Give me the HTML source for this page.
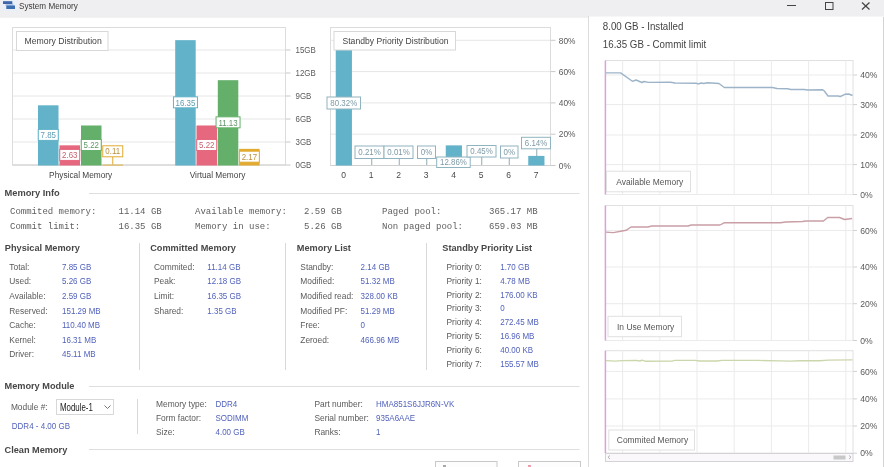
<!DOCTYPE html>
<html><head><meta charset="utf-8"><title>System Memory</title>
<style>
html,body{margin:0;padding:0;width:884px;height:467px;overflow:hidden;background:#fff;}
body{position:relative;font-family:"Liberation Sans",sans-serif;}
.g{position:absolute;left:0;top:0;filter:blur(0.4px);}
.t{position:absolute;white-space:nowrap;}
</style></head><body>
<svg class="g" width="884" height="467" viewBox="0 0 884 467" font-family="Liberation Sans, sans-serif"><rect x="0" y="0" width="884" height="16.5" fill="#efeff1" /><rect x="0" y="16.5" width="589" height="1" fill="#e8e6e8" /><rect x="2" y="0.5" width="15" height="10.5" fill="#e9eff7" /><rect x="5.5" y="3.5" width="8" height="2.5" fill="#b4c8e6" /><rect x="3" y="1.2" width="9.3" height="2.8" fill="#3d66ab" /><rect x="6.3" y="5.5" width="8.7" height="3.5" fill="#3b6fb2" /><text transform="translate(19,9) scale(0.905,1)" font-size="9" fill="#3a3a3a" text-anchor="start">System Memory</text><line x1="787" y1="5.5" x2="796" y2="5.5" stroke="#444" stroke-width="1" /><rect x="825.5" y="2.5" width="7.5" height="7" fill="none" stroke="#444" stroke-width="1" /><line x1="862" y1="2.5" x2="869.5" y2="9.5" stroke="#444" stroke-width="1.2" /><line x1="869.5" y1="2.5" x2="862" y2="9.5" stroke="#444" stroke-width="1.2" /><rect x="12.5" y="27.5" width="273.0" height="137.5" fill="#fff" stroke="#dcdcdc" stroke-width="1" /><line x1="285.5" y1="165" x2="290.5" y2="165" stroke="#c8c8c8" stroke-width="1" /><text transform="translate(295.5,168) scale(0.88,1)" font-size="9" fill="#5a5a5a" text-anchor="start">0GB</text><line x1="12.5" y1="142" x2="285.5" y2="142" stroke="#e6e6e6" stroke-width="1" /><line x1="285.5" y1="142" x2="290.5" y2="142" stroke="#c8c8c8" stroke-width="1" /><text transform="translate(295.5,145) scale(0.88,1)" font-size="9" fill="#5a5a5a" text-anchor="start">3GB</text><line x1="12.5" y1="119" x2="285.5" y2="119" stroke="#e6e6e6" stroke-width="1" /><line x1="285.5" y1="119" x2="290.5" y2="119" stroke="#c8c8c8" stroke-width="1" /><text transform="translate(295.5,122) scale(0.88,1)" font-size="9" fill="#5a5a5a" text-anchor="start">6GB</text><line x1="12.5" y1="96" x2="285.5" y2="96" stroke="#e6e6e6" stroke-width="1" /><line x1="285.5" y1="96" x2="290.5" y2="96" stroke="#c8c8c8" stroke-width="1" /><text transform="translate(295.5,99) scale(0.88,1)" font-size="9" fill="#5a5a5a" text-anchor="start">9GB</text><line x1="12.5" y1="73" x2="285.5" y2="73" stroke="#e6e6e6" stroke-width="1" /><line x1="285.5" y1="73" x2="290.5" y2="73" stroke="#c8c8c8" stroke-width="1" /><text transform="translate(295.5,76) scale(0.88,1)" font-size="9" fill="#5a5a5a" text-anchor="start">12GB</text><line x1="12.5" y1="50" x2="285.5" y2="50" stroke="#e6e6e6" stroke-width="1" /><line x1="285.5" y1="50" x2="290.5" y2="50" stroke="#c8c8c8" stroke-width="1" /><text transform="translate(295.5,53) scale(0.88,1)" font-size="9" fill="#5a5a5a" text-anchor="start">15GB</text><line x1="12.5" y1="165" x2="285.5" y2="165" stroke="#d0d0d0" stroke-width="1" /><rect x="16.5" y="31.5" width="91.5" height="19" fill="#fff" stroke="#d8d8d8" stroke-width="1" /><text transform="translate(24.5,44) scale(0.925,1)" font-size="9.4" fill="#444" text-anchor="start">Memory Distribution</text><rect x="38" y="105.31666666666666" width="20.5" height="60.18333333333333" fill="#62b2c9" /><rect x="59.5" y="145.33666666666667" width="20.5" height="20.163333333333334" fill="#e6687e" /><rect x="81" y="125.47999999999999" width="20.5" height="40.02" fill="#64b06a" /><rect x="102.5" y="164.65666666666667" width="20.5" height="0.8433333333333334" fill="#e2aa30" /><rect x="175.2" y="40.14999999999998" width="20.5" height="125.35000000000002" fill="#62b2c9" /><rect x="196.5" y="125.47999999999999" width="20.5" height="40.02" fill="#e6687e" /><rect x="217.8" y="80.16999999999999" width="20.5" height="85.33000000000001" fill="#64b06a" /><rect x="239.1" y="148.86333333333334" width="20.5" height="16.636666666666667" fill="#e2aa30" /><rect x="38.25" y="129.40833333333333" width="20" height="11" fill="#fff" stroke="#62b2c9" stroke-width="1" /><text transform="translate(48.25,138) scale(0.9,1)" font-size="8.8" fill="#5f9db3" text-anchor="middle">7.85</text><rect x="59.75" y="149.41833333333332" width="20" height="11" fill="#fff" stroke="#e6687e" stroke-width="1" /><text transform="translate(69.75,158) scale(0.9,1)" font-size="8.8" fill="#c8606f" text-anchor="middle">2.63</text><rect x="81.25" y="139.49" width="20" height="11" fill="#fff" stroke="#64b06a" stroke-width="1" /><text transform="translate(91.25,148) scale(0.9,1)" font-size="8.8" fill="#5e9766" text-anchor="middle">5.22</text><line x1="112.75" y1="157" x2="112.75" y2="164.5" stroke="#e2aa30" stroke-width="1" /><rect x="102.75" y="145.8" width="20" height="11" fill="#fff" stroke="#e2aa30" stroke-width="1" /><text transform="translate(112.75,154) scale(0.9,1)" font-size="8.8" fill="#bb9040" text-anchor="middle">0.11</text><rect x="173.45" y="96.82499999999999" width="24" height="11" fill="#fff" stroke="#62b2c9" stroke-width="1" /><text transform="translate(185.45,106) scale(0.9,1)" font-size="8.8" fill="#5f9db3" text-anchor="middle">16.35</text><rect x="196.75" y="139.49" width="20" height="11" fill="#fff" stroke="#e6687e" stroke-width="1" /><text transform="translate(206.75,148) scale(0.9,1)" font-size="8.8" fill="#c8606f" text-anchor="middle">5.22</text><rect x="216.05" y="116.835" width="24" height="11" fill="#fff" stroke="#64b06a" stroke-width="1" /><text transform="translate(228.05,126) scale(0.9,1)" font-size="8.8" fill="#5e9766" text-anchor="middle">11.13</text><rect x="239.35" y="151.18166666666667" width="20" height="11" fill="#fff" stroke="#e2aa30" stroke-width="1" /><text transform="translate(249.35,160) scale(0.9,1)" font-size="8.8" fill="#bb9040" text-anchor="middle">2.17</text><text x="80.7" y="177.5" font-size="8.3" fill="#444" text-anchor="middle">Physical Memory</text><text x="217.5" y="177.5" font-size="8.3" fill="#444" text-anchor="middle">Virtual Memory</text><rect x="330.5" y="27.5" width="220.0" height="138.0" fill="#fff" stroke="#dcdcdc" stroke-width="1" /><line x1="550.5" y1="165.5" x2="555.5" y2="165.5" stroke="#c8c8c8" stroke-width="1" /><text transform="translate(558.8,169) scale(0.93,1)" font-size="9" fill="#5a5a5a" text-anchor="start">0%</text><line x1="330.5" y1="134.2" x2="550.5" y2="134.2" stroke="#e6e6e6" stroke-width="1" /><line x1="550.5" y1="134.2" x2="555.5" y2="134.2" stroke="#c8c8c8" stroke-width="1" /><text transform="translate(558.8,137) scale(0.93,1)" font-size="9" fill="#5a5a5a" text-anchor="start">20%</text><line x1="330.5" y1="102.9" x2="550.5" y2="102.9" stroke="#e6e6e6" stroke-width="1" /><line x1="550.5" y1="102.9" x2="555.5" y2="102.9" stroke="#c8c8c8" stroke-width="1" /><text transform="translate(558.8,106) scale(0.93,1)" font-size="9" fill="#5a5a5a" text-anchor="start">40%</text><line x1="330.5" y1="71.60000000000001" x2="550.5" y2="71.60000000000001" stroke="#e6e6e6" stroke-width="1" /><line x1="550.5" y1="71.60000000000001" x2="555.5" y2="71.60000000000001" stroke="#c8c8c8" stroke-width="1" /><text transform="translate(558.8,75) scale(0.93,1)" font-size="9" fill="#5a5a5a" text-anchor="start">60%</text><line x1="330.5" y1="40.30000000000001" x2="550.5" y2="40.30000000000001" stroke="#e6e6e6" stroke-width="1" /><line x1="550.5" y1="40.30000000000001" x2="555.5" y2="40.30000000000001" stroke="#c8c8c8" stroke-width="1" /><text transform="translate(558.8,44) scale(0.93,1)" font-size="9" fill="#5a5a5a" text-anchor="start">80%</text><line x1="330.5" y1="165.5" x2="550.5" y2="165.5" stroke="#d0d0d0" stroke-width="1" /><rect x="335.75" y="39.79920000000001" width="16.2" height="125.70079999999999" fill="#62b2c9" /><text transform="translate(343.55,178) scale(0.95,1)" font-size="9" fill="#4a4a4a" text-anchor="middle">0</text><text transform="translate(371.05,178) scale(0.95,1)" font-size="9" fill="#4a4a4a" text-anchor="middle">1</text><text transform="translate(398.55,178) scale(0.95,1)" font-size="9" fill="#4a4a4a" text-anchor="middle">2</text><text transform="translate(426.05,178) scale(0.95,1)" font-size="9" fill="#4a4a4a" text-anchor="middle">3</text><rect x="445.75" y="145.3741" width="16.2" height="20.125899999999998" fill="#62b2c9" /><text transform="translate(453.55,178) scale(0.95,1)" font-size="9" fill="#4a4a4a" text-anchor="middle">4</text><text transform="translate(481.05,178) scale(0.95,1)" font-size="9" fill="#4a4a4a" text-anchor="middle">5</text><text transform="translate(508.55,178) scale(0.95,1)" font-size="9" fill="#4a4a4a" text-anchor="middle">6</text><rect x="528.25" y="155.8909" width="16.2" height="9.6091" fill="#62b2c9" /><text transform="translate(536.05,178) scale(0.95,1)" font-size="9" fill="#4a4a4a" text-anchor="middle">7</text><rect x="334" y="31.5" width="121.5" height="18.5" fill="#fff" stroke="#d8d8d8" stroke-width="1" /><text transform="translate(342.5,44) scale(0.915,1)" font-size="9.4" fill="#444" text-anchor="start">Standby Priority Distribution</text><rect x="327" y="97" width="33.5" height="12" fill="#fff" stroke="#8fb4c0" stroke-width="1" /><text transform="translate(343.75,106) scale(0.9,1)" font-size="8.8" fill="#7d9aa6" text-anchor="middle">80.32%</text><line x1="371.75" y1="158.5" x2="371.75" y2="165" stroke="#90aab4" stroke-width="1" /><rect x="355" y="146" width="29" height="12.5" fill="#fff" stroke="#8fb4c0" stroke-width="1" /><text transform="translate(369.5,155) scale(0.9,1)" font-size="8.8" fill="#7d9aa6" text-anchor="middle">0.21%</text><line x1="399.25" y1="158.5" x2="399.25" y2="165" stroke="#90aab4" stroke-width="1" /><rect x="384" y="146" width="29" height="12.5" fill="#fff" stroke="#8fb4c0" stroke-width="1" /><text transform="translate(398.5,155) scale(0.9,1)" font-size="8.8" fill="#7d9aa6" text-anchor="middle">0.01%</text><line x1="426.75" y1="158.5" x2="426.75" y2="165" stroke="#90aab4" stroke-width="1" /><rect x="417.5" y="146" width="18.0" height="12.5" fill="#fff" stroke="#8fb4c0" stroke-width="1" /><text transform="translate(426.5,155) scale(0.9,1)" font-size="8.8" fill="#7d9aa6" text-anchor="middle">0%</text><rect x="436.7" y="157" width="33.5" height="10.5" fill="#fff" stroke="#8fb4c0" stroke-width="1" /><text transform="translate(453.45,165) scale(0.9,1)" font-size="8.8" fill="#7d9aa6" text-anchor="middle">12.86%</text><line x1="481.75" y1="157" x2="481.75" y2="165" stroke="#90aab4" stroke-width="1" /><rect x="467" y="145.5" width="29" height="11.5" fill="#fff" stroke="#8fb4c0" stroke-width="1" /><text transform="translate(481.5,154) scale(0.9,1)" font-size="8.8" fill="#7d9aa6" text-anchor="middle">0.45%</text><line x1="509.25" y1="158" x2="509.25" y2="165" stroke="#90aab4" stroke-width="1" /><rect x="500.5" y="146" width="17.5" height="12" fill="#fff" stroke="#8fb4c0" stroke-width="1" /><text transform="translate(509.25,155) scale(0.9,1)" font-size="8.8" fill="#7d9aa6" text-anchor="middle">0%</text><line x1="536.75" y1="148.8" x2="536.75" y2="156" stroke="#90aab4" stroke-width="1" /><rect x="521.5" y="137.3" width="29.0" height="11.5" fill="#fff" stroke="#8fb4c0" stroke-width="1" /><text transform="translate(536.0,146) scale(0.9,1)" font-size="8.8" fill="#7d9aa6" text-anchor="middle">6.14%</text><line x1="89" y1="193.5" x2="579.5" y2="193.5" stroke="#dedede" stroke-width="1" /><line x1="139.5" y1="243" x2="139.5" y2="370" stroke="#d8d8d8" stroke-width="1" /><line x1="285.5" y1="243" x2="285.5" y2="370" stroke="#d8d8d8" stroke-width="1" /><line x1="426.5" y1="243" x2="426.5" y2="370" stroke="#d8d8d8" stroke-width="1" /><line x1="89" y1="386.5" x2="579.5" y2="386.5" stroke="#dedede" stroke-width="1" /><rect x="56.5" y="399.5" width="57" height="15" fill="#fff" stroke="#d8d8d8" stroke-width="1" /><text transform="translate(60,411) scale(0.76,1)" font-size="10.4" fill="#1a1a1a" text-anchor="start">Module-1</text><polyline points="104.5,405.5 107.5,408.5 110.5,405.5" fill="none" stroke="#666" stroke-width="0.9"/><line x1="137.5" y1="399" x2="137.5" y2="434" stroke="#d8d8d8" stroke-width="1" /><line x1="89" y1="449.5" x2="579.5" y2="449.5" stroke="#dedede" stroke-width="1" /><rect x="435.5" y="461.5" width="61.5" height="10" fill="#fdfdfd" stroke="#c8c8c8" stroke-width="1" /><rect x="518.5" y="461.5" width="62" height="10" fill="#fdfdfd" stroke="#c8c8c8" stroke-width="1" /><rect x="443" y="465" width="3" height="2.5" fill="#a8a8a8" /><rect x="528" y="465" width="3" height="2.5" fill="#eaa0ac" /><line x1="883.5" y1="17" x2="883.5" y2="467" stroke="#d4d4d4" stroke-width="1" /><line x1="588.5" y1="16" x2="588.5" y2="467" stroke="#dcdcdc" stroke-width="1" /><text transform="translate(602.8,30) scale(0.955,1)" font-size="10.2" fill="#444" text-anchor="start">8.00 GB - Installed</text><text transform="translate(602.8,48) scale(0.955,1)" font-size="10.2" fill="#444" text-anchor="start">16.35 GB - Commit limit</text><rect x="605.5" y="60.5" width="247.5" height="134.0" fill="#fff" stroke="#e0e0e0" stroke-width="1" /><line x1="622.6" y1="60.5" x2="622.6" y2="194.5" stroke="#ebebeb" stroke-width="1" /><line x1="659.8000000000001" y1="60.5" x2="659.8000000000001" y2="194.5" stroke="#ebebeb" stroke-width="1" /><line x1="697.0" y1="60.5" x2="697.0" y2="194.5" stroke="#ebebeb" stroke-width="1" /><line x1="734.2" y1="60.5" x2="734.2" y2="194.5" stroke="#ebebeb" stroke-width="1" /><line x1="771.4000000000001" y1="60.5" x2="771.4000000000001" y2="194.5" stroke="#ebebeb" stroke-width="1" /><line x1="808.6" y1="60.5" x2="808.6" y2="194.5" stroke="#ebebeb" stroke-width="1" /><line x1="845.8000000000001" y1="60.5" x2="845.8000000000001" y2="194.5" stroke="#ebebeb" stroke-width="1" /><line x1="605.5" y1="75" x2="853" y2="75" stroke="#ebebeb" stroke-width="1" /><line x1="853" y1="75" x2="857" y2="75" stroke="#d0d0d0" stroke-width="1" /><text x="860.3" y="78.2" font-size="8.6" fill="#5a5a5a" text-anchor="start">40%</text><line x1="605.5" y1="104.6" x2="853" y2="104.6" stroke="#ebebeb" stroke-width="1" /><line x1="853" y1="104.6" x2="857" y2="104.6" stroke="#d0d0d0" stroke-width="1" /><text x="860.3" y="107.8" font-size="8.6" fill="#5a5a5a" text-anchor="start">30%</text><line x1="605.5" y1="135" x2="853" y2="135" stroke="#ebebeb" stroke-width="1" /><line x1="853" y1="135" x2="857" y2="135" stroke="#d0d0d0" stroke-width="1" /><text x="860.3" y="138.2" font-size="8.6" fill="#5a5a5a" text-anchor="start">20%</text><line x1="605.5" y1="164.6" x2="853" y2="164.6" stroke="#ebebeb" stroke-width="1" /><line x1="853" y1="164.6" x2="857" y2="164.6" stroke="#d0d0d0" stroke-width="1" /><text x="860.3" y="167.79999999999998" font-size="8.6" fill="#5a5a5a" text-anchor="start">10%</text><line x1="605.5" y1="194.5" x2="853" y2="194.5" stroke="#ebebeb" stroke-width="1" /><line x1="853" y1="194.5" x2="857" y2="194.5" stroke="#d0d0d0" stroke-width="1" /><text x="860.3" y="197.7" font-size="8.6" fill="#5a5a5a" text-anchor="start">0%</text><line x1="605.4" y1="60.5" x2="605.4" y2="194.5" stroke="#d8a4d8" stroke-width="1.5" /><rect x="606.5" y="171.2" width="84" height="20.6" fill="#fff" stroke="#e0e0e0" stroke-width="1" /><text transform="translate(616.3,185) scale(0.93,1)" font-size="9.1" fill="#555" text-anchor="start">Available Memory</text><polyline points="606,72.9 620.6,72.9 632.4,81.3 636,80 641.9,82.5 644,81.5 648.5,82.4 670.6,82.2 675,83 696.3,83.2 697.8,84 701.5,83 703.7,83.5 707.4,82.8 719,83.5 724.3,87.5 772.3,87.5 777,88.5 787.6,88.8 790.7,89.5 804.4,89.5 807.5,90 822.7,89.8 824.3,91 828,96 838,96 840.3,96.5 844.9,94.3 848.7,94 852.5,95.5" fill="none" stroke="#9db4c8" stroke-width="1.4" stroke-linejoin="round"/><rect x="605.5" y="205.5" width="247.5" height="135.0" fill="#fff" stroke="#e0e0e0" stroke-width="1" /><line x1="622.6" y1="205.5" x2="622.6" y2="340.5" stroke="#ebebeb" stroke-width="1" /><line x1="659.8000000000001" y1="205.5" x2="659.8000000000001" y2="340.5" stroke="#ebebeb" stroke-width="1" /><line x1="697.0" y1="205.5" x2="697.0" y2="340.5" stroke="#ebebeb" stroke-width="1" /><line x1="734.2" y1="205.5" x2="734.2" y2="340.5" stroke="#ebebeb" stroke-width="1" /><line x1="771.4000000000001" y1="205.5" x2="771.4000000000001" y2="340.5" stroke="#ebebeb" stroke-width="1" /><line x1="808.6" y1="205.5" x2="808.6" y2="340.5" stroke="#ebebeb" stroke-width="1" /><line x1="845.8000000000001" y1="205.5" x2="845.8000000000001" y2="340.5" stroke="#ebebeb" stroke-width="1" /><line x1="605.5" y1="230.5" x2="853" y2="230.5" stroke="#ebebeb" stroke-width="1" /><line x1="853" y1="230.5" x2="857" y2="230.5" stroke="#d0d0d0" stroke-width="1" /><text x="860.3" y="233.7" font-size="8.6" fill="#5a5a5a" text-anchor="start">60%</text><line x1="605.5" y1="267" x2="853" y2="267" stroke="#ebebeb" stroke-width="1" /><line x1="853" y1="267" x2="857" y2="267" stroke="#d0d0d0" stroke-width="1" /><text x="860.3" y="270.2" font-size="8.6" fill="#5a5a5a" text-anchor="start">40%</text><line x1="605.5" y1="303.7" x2="853" y2="303.7" stroke="#ebebeb" stroke-width="1" /><line x1="853" y1="303.7" x2="857" y2="303.7" stroke="#d0d0d0" stroke-width="1" /><text x="860.3" y="306.9" font-size="8.6" fill="#5a5a5a" text-anchor="start">20%</text><line x1="605.5" y1="340.5" x2="853" y2="340.5" stroke="#ebebeb" stroke-width="1" /><line x1="853" y1="340.5" x2="857" y2="340.5" stroke="#d0d0d0" stroke-width="1" /><text x="860.3" y="343.7" font-size="8.6" fill="#5a5a5a" text-anchor="start">0%</text><line x1="605.4" y1="205.5" x2="605.4" y2="340.5" stroke="#d8a4d8" stroke-width="1.5" /><rect x="608" y="316.3" width="73.5" height="20.4" fill="#fff" stroke="#e0e0e0" stroke-width="1" /><text transform="translate(617,330) scale(0.93,1)" font-size="9.1" fill="#555" text-anchor="start">In Use Memory</text><polyline points="606,232.1 613.3,232.6 622.1,231 626.1,230.3 631,227 647.8,227 651.8,226 688,226 691.2,225 720,225 724.1,222.8 780.5,222.8 785.6,222 802.4,221.5 805.8,221 823.5,221 827.7,217.5 839.5,217.5 844.6,219.5 852.1,218.5" fill="none" stroke="#c99ea6" stroke-width="1.4" stroke-linejoin="round"/><rect x="605.5" y="350.7" width="247.5" height="102.5" fill="#fff" stroke="#e0e0e0" stroke-width="1" /><line x1="622.6" y1="350.7" x2="622.6" y2="453.2" stroke="#ebebeb" stroke-width="1" /><line x1="659.8000000000001" y1="350.7" x2="659.8000000000001" y2="453.2" stroke="#ebebeb" stroke-width="1" /><line x1="697.0" y1="350.7" x2="697.0" y2="453.2" stroke="#ebebeb" stroke-width="1" /><line x1="734.2" y1="350.7" x2="734.2" y2="453.2" stroke="#ebebeb" stroke-width="1" /><line x1="771.4000000000001" y1="350.7" x2="771.4000000000001" y2="453.2" stroke="#ebebeb" stroke-width="1" /><line x1="808.6" y1="350.7" x2="808.6" y2="453.2" stroke="#ebebeb" stroke-width="1" /><line x1="845.8000000000001" y1="350.7" x2="845.8000000000001" y2="453.2" stroke="#ebebeb" stroke-width="1" /><line x1="605.5" y1="371.4" x2="853" y2="371.4" stroke="#ebebeb" stroke-width="1" /><line x1="853" y1="371.4" x2="857" y2="371.4" stroke="#d0d0d0" stroke-width="1" /><text x="860.3" y="374.59999999999997" font-size="8.6" fill="#5a5a5a" text-anchor="start">60%</text><line x1="605.5" y1="398.9" x2="853" y2="398.9" stroke="#ebebeb" stroke-width="1" /><line x1="853" y1="398.9" x2="857" y2="398.9" stroke="#d0d0d0" stroke-width="1" /><text x="860.3" y="402.09999999999997" font-size="8.6" fill="#5a5a5a" text-anchor="start">40%</text><line x1="605.5" y1="426" x2="853" y2="426" stroke="#ebebeb" stroke-width="1" /><line x1="853" y1="426" x2="857" y2="426" stroke="#d0d0d0" stroke-width="1" /><text x="860.3" y="429.2" font-size="8.6" fill="#5a5a5a" text-anchor="start">20%</text><line x1="605.5" y1="453.2" x2="853" y2="453.2" stroke="#ebebeb" stroke-width="1" /><line x1="853" y1="453.2" x2="857" y2="453.2" stroke="#d0d0d0" stroke-width="1" /><text x="860.3" y="456.4" font-size="8.6" fill="#5a5a5a" text-anchor="start">0%</text><line x1="605.4" y1="350.7" x2="605.4" y2="453.2" stroke="#d8a4d8" stroke-width="1.5" /><rect x="608.8" y="430" width="85.7" height="20" fill="#fff" stroke="#e0e0e0" stroke-width="1" /><text transform="translate(616.8,443) scale(0.93,1)" font-size="9.1" fill="#555" text-anchor="start">Commited Memory</text><polyline points="606,360.6 615,361.1 622,360.6 636,360.4 640,361 642,360.2 645,361.2 672,361.1 675,360.4 695,360.4 700,361 717,361 722,360.4 757,360.4 780,360.9 790,361.1 800,360.7 820,360.7 828,360.1 852.5,359.9" fill="none" stroke="#ccd6ac" stroke-width="1.4" stroke-linejoin="round"/><rect x="605.5" y="453.5" width="247.5" height="8" fill="#faf8fa" stroke="#d4d2d6" stroke-width="1" /><rect x="833.5" y="455.5" width="12" height="4" fill="#c8c8c8" /><polyline points="610,455.5 608,457.2 610,459" fill="none" stroke="#999" stroke-width="0.7"/><polyline points="849,455.5 851,457.2 849,459" fill="none" stroke="#999" stroke-width="0.7"/><text x="4.5" y="196" font-size="9.3" fill="#474747" text-anchor="start" font-weight="bold">Memory Info</text><text x="10" y="213.5" font-size="9" fill="#5e5e5e" text-anchor="start" font-family="Liberation Mono, monospace">Commited memory:</text><text x="118.5" y="213.5" font-size="9" fill="#5e5e5e" text-anchor="start" font-family="Liberation Mono, monospace">11.14 GB</text><text x="195" y="213.5" font-size="9" fill="#5e5e5e" text-anchor="start" font-family="Liberation Mono, monospace">Available memory:</text><text x="304" y="213.5" font-size="9" fill="#5e5e5e" text-anchor="start" font-family="Liberation Mono, monospace">2.59 GB</text><text x="382" y="213.5" font-size="9" fill="#5e5e5e" text-anchor="start" font-family="Liberation Mono, monospace">Paged pool:</text><text x="489" y="213.5" font-size="9" fill="#5e5e5e" text-anchor="start" font-family="Liberation Mono, monospace">365.17 MB</text><text x="10" y="228.8" font-size="9" fill="#5e5e5e" text-anchor="start" font-family="Liberation Mono, monospace">Commit limit:</text><text x="118.5" y="228.8" font-size="9" fill="#5e5e5e" text-anchor="start" font-family="Liberation Mono, monospace">16.35 GB</text><text x="195" y="228.8" font-size="9" fill="#5e5e5e" text-anchor="start" font-family="Liberation Mono, monospace">Memory in use:</text><text x="304" y="228.8" font-size="9" fill="#5e5e5e" text-anchor="start" font-family="Liberation Mono, monospace">5.26 GB</text><text x="382" y="228.8" font-size="9" fill="#5e5e5e" text-anchor="start" font-family="Liberation Mono, monospace">Non paged pool:</text><text x="489" y="228.8" font-size="9" fill="#5e5e5e" text-anchor="start" font-family="Liberation Mono, monospace">659.03 MB</text><text x="4.8" y="251.2" font-size="9.2" fill="#474747" text-anchor="start" font-weight="bold">Physical Memory</text><text x="9.3" y="269.9" font-size="8.4" fill="#5a5a5a" text-anchor="start">Total:</text><text transform="translate(62,270) scale(0.9,1)" font-size="8.9" fill="#5262bc">7.85 GB</text><text x="9.3" y="284.45" font-size="8.4" fill="#5a5a5a" text-anchor="start">Used:</text><text transform="translate(62,284) scale(0.9,1)" font-size="8.9" fill="#5262bc">5.26 GB</text><text x="9.3" y="299.0" font-size="8.4" fill="#5a5a5a" text-anchor="start">Available:</text><text transform="translate(62,299) scale(0.9,1)" font-size="8.9" fill="#5262bc">2.59 GB</text><text x="9.3" y="313.54999999999995" font-size="8.4" fill="#5a5a5a" text-anchor="start">Reserved:</text><text transform="translate(62,314) scale(0.9,1)" font-size="8.9" fill="#5262bc">151.29 MB</text><text x="9.3" y="328.09999999999997" font-size="8.4" fill="#5a5a5a" text-anchor="start">Cache:</text><text transform="translate(62,328) scale(0.9,1)" font-size="8.9" fill="#5262bc">110.40 MB</text><text x="9.3" y="342.65" font-size="8.4" fill="#5a5a5a" text-anchor="start">Kernel:</text><text transform="translate(62,343) scale(0.9,1)" font-size="8.9" fill="#5262bc">16.31 MB</text><text x="9.3" y="357.2" font-size="8.4" fill="#5a5a5a" text-anchor="start">Driver:</text><text transform="translate(62,357) scale(0.9,1)" font-size="8.9" fill="#5262bc">45.11 MB</text><text x="150.2" y="251.2" font-size="9.2" fill="#474747" text-anchor="start" font-weight="bold">Committed Memory</text><text x="154" y="269.9" font-size="8.4" fill="#5a5a5a" text-anchor="start">Commited:</text><text transform="translate(207.3,270) scale(0.9,1)" font-size="8.9" fill="#5262bc">11.14 GB</text><text x="154" y="284.45" font-size="8.4" fill="#5a5a5a" text-anchor="start">Peak:</text><text transform="translate(207.3,284) scale(0.9,1)" font-size="8.9" fill="#5262bc">12.18 GB</text><text x="154" y="299.0" font-size="8.4" fill="#5a5a5a" text-anchor="start">Limit:</text><text transform="translate(207.3,299) scale(0.9,1)" font-size="8.9" fill="#5262bc">16.35 GB</text><text x="154" y="313.54999999999995" font-size="8.4" fill="#5a5a5a" text-anchor="start">Shared:</text><text transform="translate(207.3,314) scale(0.9,1)" font-size="8.9" fill="#5262bc">1.35 GB</text><text x="296.8" y="251.2" font-size="9.2" fill="#474747" text-anchor="start" font-weight="bold">Memory List</text><text x="300.3" y="269.9" font-size="8.4" fill="#5a5a5a" text-anchor="start">Standby:</text><text transform="translate(360.6,270) scale(0.9,1)" font-size="8.9" fill="#5262bc">2.14 GB</text><text x="300.3" y="284.45" font-size="8.4" fill="#5a5a5a" text-anchor="start">Modified:</text><text transform="translate(360.6,284) scale(0.9,1)" font-size="8.9" fill="#5262bc">51.32 MB</text><text x="300.3" y="299.0" font-size="8.4" fill="#5a5a5a" text-anchor="start">Modified read:</text><text transform="translate(360.6,299) scale(0.9,1)" font-size="8.9" fill="#5262bc">328.00 KB</text><text x="300.3" y="313.54999999999995" font-size="8.4" fill="#5a5a5a" text-anchor="start">Modified PF:</text><text transform="translate(360.6,314) scale(0.9,1)" font-size="8.9" fill="#5262bc">51.29 MB</text><text x="300.3" y="328.09999999999997" font-size="8.4" fill="#5a5a5a" text-anchor="start">Free:</text><text transform="translate(360.6,328) scale(0.9,1)" font-size="8.9" fill="#5262bc">0</text><text x="300.3" y="342.65" font-size="8.4" fill="#5a5a5a" text-anchor="start">Zeroed:</text><text transform="translate(360.6,343) scale(0.9,1)" font-size="8.9" fill="#5262bc">466.96 MB</text><text x="442.3" y="251.2" font-size="9.2" fill="#474747" text-anchor="start" font-weight="bold">Standby Priority List</text><text x="446.5" y="269.9" font-size="8.4" fill="#5a5a5a" text-anchor="start">Priority 0:</text><text transform="translate(500.2,270) scale(0.9,1)" font-size="8.9" fill="#5262bc">1.70 GB</text><text x="446.5" y="283.71999999999997" font-size="8.4" fill="#5a5a5a" text-anchor="start">Priority 1:</text><text transform="translate(500.2,284) scale(0.9,1)" font-size="8.9" fill="#5262bc">4.78 MB</text><text x="446.5" y="297.53999999999996" font-size="8.4" fill="#5a5a5a" text-anchor="start">Priority 2:</text><text transform="translate(500.2,298) scale(0.9,1)" font-size="8.9" fill="#5262bc">176.00 KB</text><text x="446.5" y="311.35999999999996" font-size="8.4" fill="#5a5a5a" text-anchor="start">Priority 3:</text><text transform="translate(500.2,311) scale(0.9,1)" font-size="8.9" fill="#5262bc">0</text><text x="446.5" y="325.17999999999995" font-size="8.4" fill="#5a5a5a" text-anchor="start">Priority 4:</text><text transform="translate(500.2,325) scale(0.9,1)" font-size="8.9" fill="#5262bc">272.45 MB</text><text x="446.5" y="339.0" font-size="8.4" fill="#5a5a5a" text-anchor="start">Priority 5:</text><text transform="translate(500.2,339) scale(0.9,1)" font-size="8.9" fill="#5262bc">16.96 MB</text><text x="446.5" y="352.82" font-size="8.4" fill="#5a5a5a" text-anchor="start">Priority 6:</text><text transform="translate(500.2,353) scale(0.9,1)" font-size="8.9" fill="#5262bc">40.00 KB</text><text x="446.5" y="366.64" font-size="8.4" fill="#5a5a5a" text-anchor="start">Priority 7:</text><text transform="translate(500.2,367) scale(0.9,1)" font-size="8.9" fill="#5262bc">155.57 MB</text><text x="4.5" y="389.4" font-size="9.2" fill="#474747" text-anchor="start" font-weight="bold">Memory Module</text><text x="10.9" y="410.3" font-size="8.4" fill="#5a5a5a" text-anchor="start">Module #:</text><text transform="translate(11.8,429) scale(0.9,1)" font-size="8.9" fill="#5262bc">DDR4 - 4.00 GB</text><text x="156" y="407.0" font-size="8.4" fill="#5a5a5a" text-anchor="start">Memory type:</text><text transform="translate(215.5,407) scale(0.9,1)" font-size="8.9" fill="#5262bc">DDR4</text><text x="156" y="420.9" font-size="8.4" fill="#5a5a5a" text-anchor="start">Form factor:</text><text transform="translate(215.5,421) scale(0.9,1)" font-size="8.9" fill="#5262bc">SODIMM</text><text x="156" y="434.8" font-size="8.4" fill="#5a5a5a" text-anchor="start">Size:</text><text transform="translate(215.5,435) scale(0.9,1)" font-size="8.9" fill="#5262bc">4.00 GB</text><text x="314.4" y="406.8" font-size="8.4" fill="#5a5a5a" text-anchor="start">Part number:</text><text transform="translate(376,407) scale(0.9,1)" font-size="8.9" fill="#5262bc">HMA851S6JJR6N-VK</text><text x="314.4" y="420.7" font-size="8.4" fill="#5a5a5a" text-anchor="start">Serial number:</text><text transform="translate(376,421) scale(0.9,1)" font-size="8.9" fill="#5262bc">935A6AAE</text><text x="314.4" y="434.6" font-size="8.4" fill="#5a5a5a" text-anchor="start">Ranks:</text><text transform="translate(376,435) scale(0.9,1)" font-size="8.9" fill="#5262bc">1</text><text x="4.5" y="452.6" font-size="9.2" fill="#474747" text-anchor="start" font-weight="bold">Clean Memory</text></svg>

</body></html>
